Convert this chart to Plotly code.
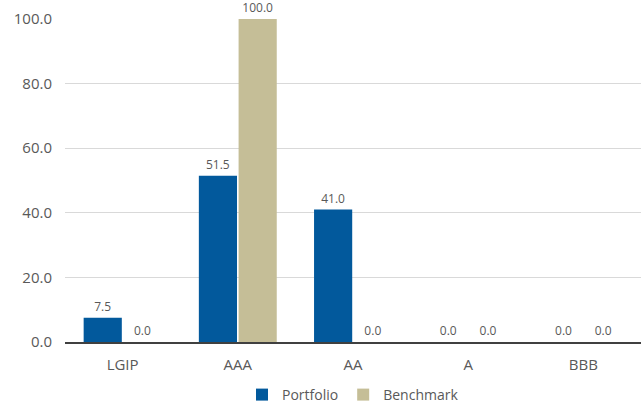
import plotly.graph_objects as go

categories = ["LGIP", "AAA", "AA", "A", "BBB"]
portfolio = [7.5, 51.5, 41.0, 0.0, 0.0]
benchmark = [0.0, 100.0, 0.0, 0.0, 0.0]
y_ticks = [0, 20, 40, 60, 80, 100]

font_family = "Open Sans, Liberation Sans, sans-serif"
text_gray = "#595959"

fig = go.Figure()
for name, vals, color in [("Portfolio", portfolio, "#02599C"),
                          ("Benchmark", benchmark, "#C5BE97")]:
    fig.add_trace(go.Bar(
        x=categories, y=vals, name=name,
        marker=dict(color=color, line=dict(width=0)),
        texttemplate="%{y:.1f}", textposition="outside",
        textfont=dict(size=12, color=text_gray, family=font_family),
        cliponaxis=False,
    ))

fig.update_layout(
    width=644, height=411,
    margin=dict(l=65, r=3, t=19, b=69, autoexpand=False),
    paper_bgcolor="white", plot_bgcolor="white",
    barmode="group", bargap=0.31, bargroupgap=0.04,
    font=dict(family=font_family, color=text_gray, size=15),
    showlegend=True,
    legend=dict(orientation="h", x=0.5, xanchor="center",
                yref="container", y=-0.045, yanchor="bottom",
                font=dict(size=14, color=text_gray), itemwidth=30, traceorder="normal"),
    xaxis=dict(showgrid=False, ticks="", tickfont=dict(size=15, color=text_gray),
               ticklabelstandoff=8,
               showline=True, linecolor="#404040", linewidth=1.5),
    yaxis=dict(range=[0, 100], tickvals=y_ticks, tickformat=".1f",
               showgrid=True, gridcolor="#D9D9D9", gridwidth=1,
               zeroline=False, ticks="", ticklabelstandoff=12,
               tickfont=dict(size=15, color=text_gray)),
)

fig.write_html("out.html")
